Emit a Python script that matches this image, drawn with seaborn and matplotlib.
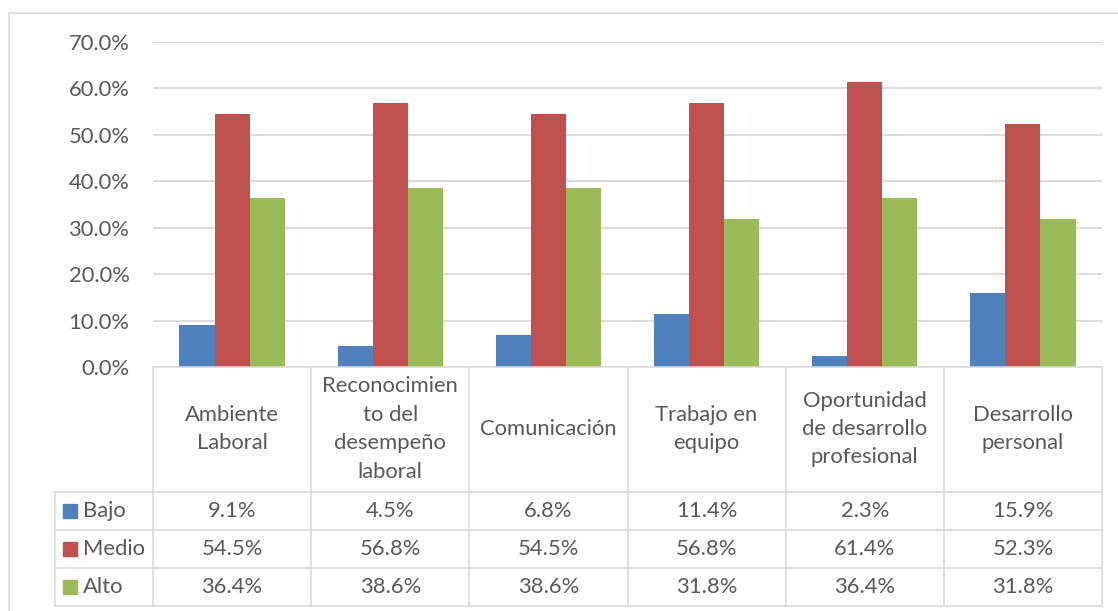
import matplotlib
matplotlib.use("Agg")
import matplotlib.pyplot as plt
import seaborn as sns
import pandas as pd
from matplotlib.lines import Line2D
from matplotlib.patches import Rectangle

categories = ["Ambiente\nLaboral", "Reconocimien\nto del\ndesempeño\nlaboral", "Comunicación",
              "Trabajo en\nequipo", "Oportunidad\nde desarrollo\nprofesional", "Desarrollo\npersonal"]
series = ["Bajo", "Medio", "Alto"]
bajo = [9.1, 4.5, 6.8, 11.4, 2.3, 15.9]
medio = [54.5, 56.8, 54.5, 56.8, 61.4, 52.3]
alto = [36.4, 38.6, 38.6, 31.8, 36.4, 31.8]
colors = ["#4F81BD", "#C0504D", "#9BBB59"]
yticks = [0, 10, 20, 30, 40, 50, 60, 70]

sns.set_style("white")
plt.rcParams["font.family"] = ["Lato", "DejaVu Sans"]
TXT = "#595959"
GRID = "#D9D9D9"
FS = 15.8

W, H = 1118, 611
fig = plt.figure(figsize=(W / 100, H / 100), dpi=100)

def fx(x):
    return x / W

def fy(y):
    return 1 - y / H

left, right, top, bot = 153, 1102, 42, 367
ax = fig.add_axes([fx(left), fy(bot), (right - left) / W, (bot - top) / H])

vals = {"Bajo": bajo, "Medio": medio, "Alto": alto}
rows = []
for s in series:
    for i, c in enumerate(categories):
        rows.append({"cat": c, "serie": s, "val": vals[s][i] / 100})
df = pd.DataFrame(rows)

sns.barplot(data=df, x="cat", y="val", hue="serie", hue_order=series, order=categories,
            palette=colors, width=0.665, gap=0, edgecolor="none", linewidth=0,
            legend=False, ax=ax, saturation=1)
ax.set_xlim(-0.5, len(categories) - 0.5)
ax.set_ylim(0, 0.7)
ax.set_yticks([t / 100 for t in yticks])
ax.set_yticklabels([f"{t:.1f}%" for t in yticks], color=TXT, fontsize=FS)
ax.tick_params(axis="y", length=0, pad=17)
ax.set_xticks([])
ax.set_xlabel("")
ax.set_ylabel("")
ax.yaxis.grid(True, color=GRID, linewidth=1.3)
ax.set_axisbelow(True)
for sp in ax.spines.values():
    sp.set_visible(False)

# Outer chart border
lw = 1.1
fig.add_artist(Line2D([fx(9), fx(9), fx(1118)], [fy(611), fy(13), fy(13)], color=GRID, lw=lw,
                      transform=fig.transFigure))

# Data table
ncat = len(categories)
colw = (right - left) / ncat
row_top = [367, 492, 530, 568, 606]
fig.add_artist(Line2D([fx(left), fx(right)], [fy(367), fy(367)], color=GRID, lw=lw, transform=fig.transFigure))
for y in row_top[1:]:
    fig.add_artist(Line2D([fx(55), fx(right)], [fy(y), fy(y)], color=GRID, lw=lw, transform=fig.transFigure))
fig.add_artist(Line2D([fx(55), fx(55)], [fy(492), fy(606)], color=GRID, lw=lw, transform=fig.transFigure))
for i in range(ncat + 1):
    x = left + i * colw
    fig.add_artist(Line2D([fx(x), fx(x)], [fy(367), fy(606)], color=GRID, lw=lw, transform=fig.transFigure))

# Header labels
for i, c in enumerate(categories):
    xc = left + (i + 0.5) * colw
    fig.text(fx(xc), fy(429), c, ha="center", va="center", fontsize=FS, color=TXT,
             linespacing=1.53, multialignment="center")

# Series rows
for r, s in enumerate(series):
    y0, y1 = row_top[r + 1], row_top[r + 2]
    yc = (y0 + y1) / 2
    fig.add_artist(Rectangle((fx(63), fy(yc + 7)), 14 / W, 14 / H, color=colors[r],
                             transform=fig.transFigure))
    fig.text(fx(83), fy(yc), s, ha="left", va="center", fontsize=FS, color=TXT)
    for i in range(ncat):
        xc = left + (i + 0.5) * colw
        fig.text(fx(xc), fy(yc), f"{vals[s][i]:.1f}%", ha="center", va="center",
                 fontsize=FS, color=TXT)

fig.savefig("out.png", dpi=100)
